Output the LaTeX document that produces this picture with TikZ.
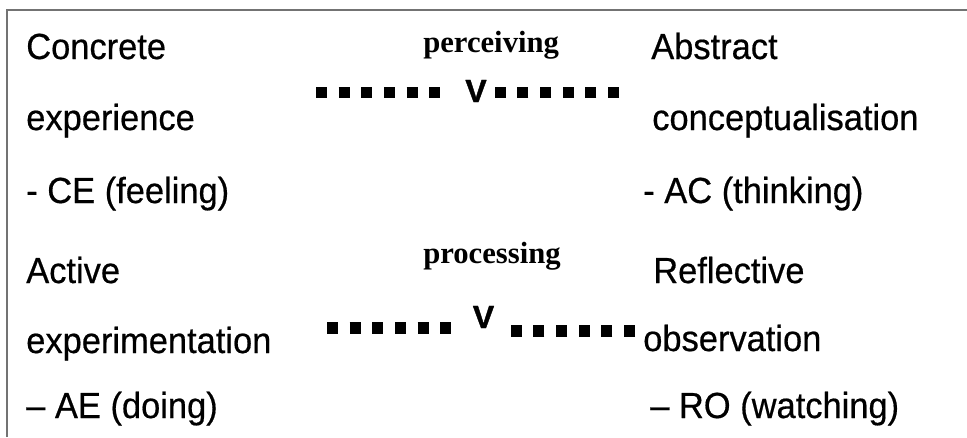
\documentclass[tikz,border=0pt]{standalone}
\usepackage{fontspec}
\setmainfont{Liberation Sans}
\newfontfamily\lblfont[FakeStretch=0.95, FakeBold=0.5]{Liberation Sans}
\newfontfamily\hdrfont{Liberation Serif}
\newfontfamily\veefont[FakeBold=1.2]{Liberation Sans}

\begin{document}
\begin{tikzpicture}[x=0.75pt, y=-0.75pt,
  txt/.style={anchor=base west, inner sep=0pt, font=\lblfont\fontsize{27.2}{33}\selectfont},
  hdr/.style={anchor=base west, inner sep=0pt, font=\hdrfont\bfseries\fontsize{23}{27}\selectfont},
  vee/.style={anchor=base, inner sep=4.5pt, font=\veefont\bfseries\fontsize{24}{28}\selectfont},
  sq/.style={line width=8.8pt, dash pattern=on 8.3pt off 8.7pt}]
\useasboundingbox (0,0) rectangle (967,437);
\draw [black!55, line width=0.8pt] (7,437) -- (7,10) -- (967,10);
\node[txt] (ce1) at (26,59) {Concrete};
\node[txt] (ce2) at (26,130) {experience};
\node[txt] (ce3) at (26,203) {- CE (feeling)};
\node[txt] (ac1) at (651,59) {Abstract};
\node[txt] (ac2) at (652,130) {conceptualisation};
\node[txt] (ac3) at (643,203) {- AC (thinking)};
\node[txt] (ae1) at (26,283) {Active};
\node[txt] (ae2) at (26,353) {experimentation};
\node[txt] (ae3) at (26,418) {– AE (doing)};
\node[txt] (ro1) at (653,283) {Reflective};
\node[txt] (ro2) at (643,351) {observation};
\node[txt] (ro3) at (650,418) {– RO (watching)};
\node[hdr] (perc) at (423,52) {perceiving};
\node[hdr] (proc) at (423,263) {processing};
\node[vee] (v1) at (476,102) {V};
\node[vee] (v2) at (483.5,328) {V};
\coordinate (p1) at (316,92.5);
\coordinate (p2) at (619,92.5);
\coordinate (q1) at (327,328);
\coordinate (q2) at (635,331);
\draw [sq, shorten >=14pt] (p1) -- (p1 -| v1.west);
\draw [sq] (p2) -- (p2 -| v1.east);
\draw [sq, shorten >=10pt] (q1) -- (q1 -| v2.west);
\draw [sq] (q2) -- (q2 -| v2.east);
\end{tikzpicture}
\end{document}
